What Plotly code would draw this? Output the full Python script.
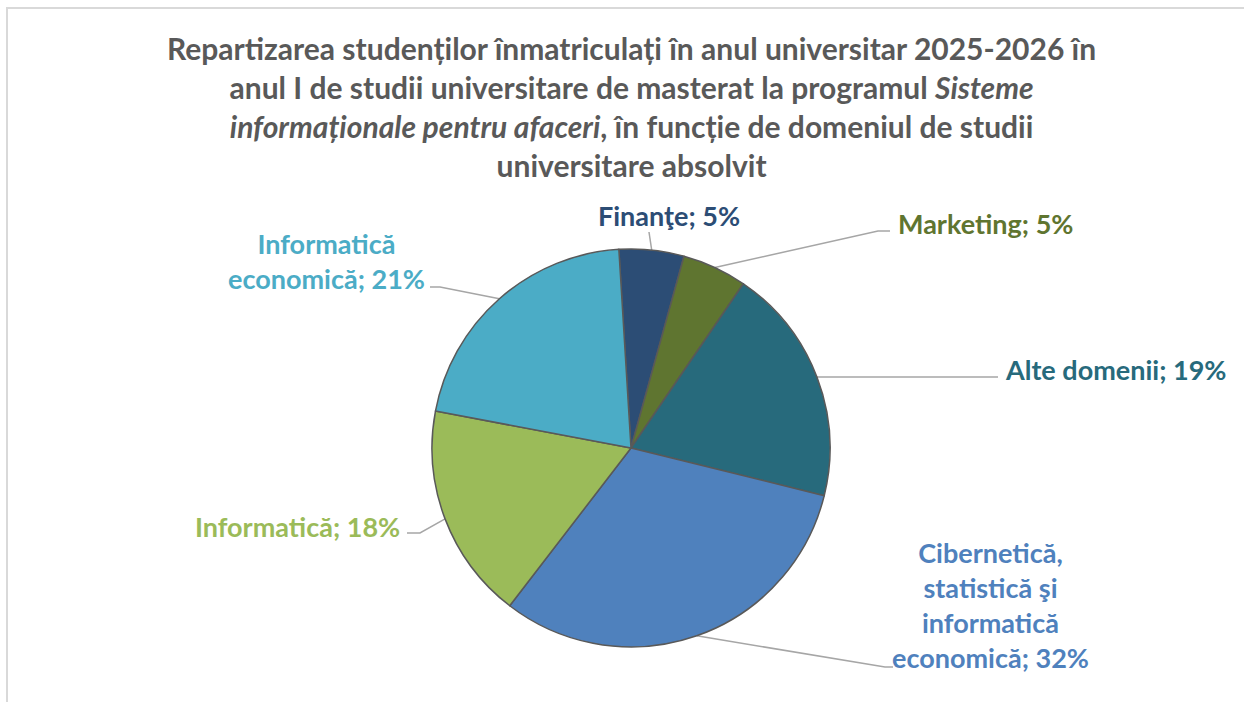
import math
import plotly.graph_objects as go

# ---- data ----
categories = ["Finanţe", "Marketing", "Alte domenii",
              "Cibernetică, statistică şi informatică economică",
              "Informatică", "Informatică economică"]
label_texts = ["Finanţe; 5%", "Marketing; 5%", "Alte domenii; 19%",
               "Cibernetică,<br>statistică şi<br>informatică<br>economică; 32%",
               "Informatică; 18%", "Informatică<br>economică; 21%"]
students = [3, 3, 11, 18, 10, 12]

# ---- style ----
W, H = 1244, 702
colors = ["#2C4D75", "#5F7530", "#276A7C", "#4F81BD", "#9BBB59", "#4BACC6"]
CX, CY, R = 631, 448, 199
ROT = -3.5
FONT = "Lato"
# label anchor (x, y, xanchor) and leader elbow points in pixels
label_pos = [
    (669, 215, "center"),
    (896, 223, "left"),
    (1003, 369, "left"),
    (990, 605, "center"),
    (402, 526, "right"),
    (326, 261, "center"),
]
elbows = [
    [(649, 232)],
    [(878, 231), (890, 231)],
    [(998, 377)],
    [(885, 667), (893, 667)],
    [(420, 533), (407, 533)],
    [(440, 287), (430, 287)],
]

fig = go.Figure()
fig.add_trace(go.Pie(
    labels=categories, values=students, sort=False, direction="clockwise",
    rotation=ROT, textinfo="none", hoverinfo="label+percent",
    marker=dict(colors=colors, line=dict(color="#595959", width=1.5)),
    domain=dict(x=[(CX - R) / W, (CX + R) / W], y=[(H - CY - R) / H, (H - CY + R) / H]),
    showlegend=False,
))

# leader lines computed from slice mid-angles
total = sum(students)
cum = 0
for i, v in enumerate(students):
    mid = ROT + (cum + v / 2) / total * 360
    cum += v
    a = math.radians(mid)
    sx, sy = CX + R * math.sin(a), CY - R * math.cos(a)
    pts = [(sx, sy)] + elbows[i]
    fig.add_trace(go.Scatter(
        x=[p[0] for p in pts], y=[p[1] for p in pts], mode="lines",
        line=dict(color="#A6A6A6", width=1.5), hoverinfo="skip",
        showlegend=False, xaxis="x", yaxis="y"))

for i, t in enumerate(label_texts):
    x, y, xa = label_pos[i]
    fig.add_annotation(x=x, y=y, xref="x", yref="y", text="<b>" + t + "</b>",
                       showarrow=False, xanchor=xa, yanchor="middle",
                       align="center", font=dict(family=FONT, size=27, color=colors[i]))

title = ("Repartizarea studenților înmatriculați în anul universitar 2025-2026 în<br>"
         "anul I de studii universitare de masterat la programul <i>Sisteme</i><br>"
         "<i>informaționale pentru afaceri</i>, în funcție de domeniul de studii<br>"
         "universitare absolvit")
fig.add_annotation(x=631, y=106, xref="x", yref="y", text="<b>" + title + "</b>",
                   showarrow=False, xanchor="center", yanchor="middle", align="center",
                   font=dict(family=FONT, size=30, color="#595959"))

fig.add_shape(type="rect", xref="x", yref="y", x0=7, y0=8, x1=1260, y1=720,
              line=dict(color="#D9D9D9", width=2), layer="below")

fig.update_layout(
    width=W, height=H, margin=dict(l=0, r=0, t=0, b=0),
    paper_bgcolor="white", plot_bgcolor="rgba(0,0,0,0)",
    xaxis=dict(range=[0, W], visible=False, fixedrange=True),
    yaxis=dict(range=[H, 0], visible=False, fixedrange=True),
)
fig.write_html("out.html", config={"displayModeBar": False},
               post_script="document.body.style.margin='0';")
